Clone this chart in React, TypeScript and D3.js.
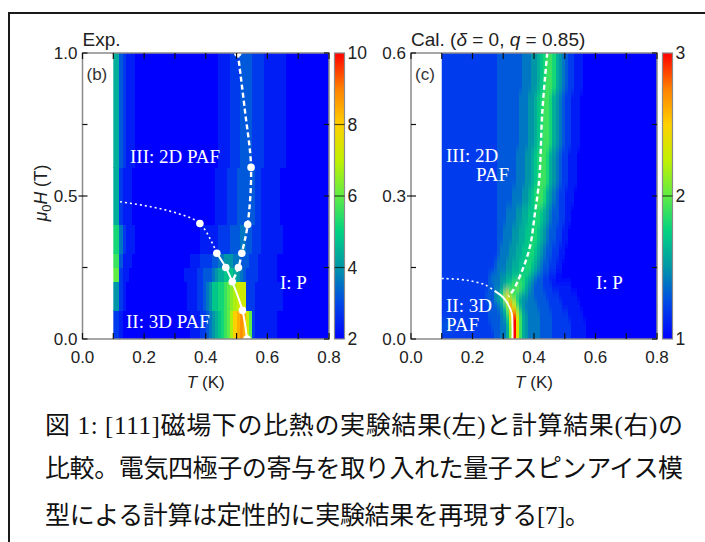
import React from "react";
import * as d3 from "d3";

// ---------------- data ----------------
// colour map stops (low -> high)
const CMAP_STOPS = ["#0000ff", "#0048e8", "#0096a8", "#00d282", "#60ec46", "#c0f000", "#ffd000", "#ff8000", "#ff0000"];

// Panel (b): experiment. Columns start at T=0.10, step 0.01 K; rows between field edges.
// each char = level (base 36), value = VMIN + level*VSTEP
const EXP_T0 = 0.1;
const EXP_DT = 0.01;
const EXP_VMIN = 2;
const EXP_VMAX = 10;
const EXP_VSTEP = 0.4;
const EXP_H_EDGES = [0, 0.1, 0.2, 0.25, 0.3, 0.4, 0.6, 1.0];
const EXP_ROWS = [
  "2210000000 0000000000 0000011122 3456789ACF GHGDA21111 1110000000 0000000000",
  "5521000000 0000000000 0000111223 4577889ABC DDD2221111 1111100000 0000000000",
  "AA21100000 0000000000 0001111223 3345667776 5432222111 1110000000 0000000000",
  "9931110000 0000000000 0000011122 2233445554 4333222111 1110000000 0000000000",
  "8842111000 0000000000 0000000011 1111222233 3443322211 1111100000 0000000000",
  "6621110000 0000000000 0000000000 0001111222 3333332211 1111000000 0000000000",
  "6632111000 0000000000 0000000000 0000111122 2333322221 1111110000 0000000000",
];

// Panel (c): calculation
const CAL_T0 = 0.1;
const CAL_DT = 0.01;
const CAL_VMIN = 1;
const CAL_VMAX = 3;
const CAL_VSTEP = 0.1;
const CAL_H_EDGES = [0, 0.02, 0.04, 0.06, 0.08, 0.1, 0.12, 0.14, 0.17, 0.2, 0.24, 0.28, 0.32, 0.36, 0.4, 0.44, 0.48, 0.52, 0.56, 0.6];
const CAL_ROWS = [
  "2222222222 2222222334 46BKE96544 4433332222 2211111000 0000000000 0000000000",
  "3333222222 2222223334 46BKE96544 4433332222 2211111000 0000000000 0000000000",
  "2222222222 2222233334 58EKD96544 4433332222 2111110000 0000000000 0000000000",
  "2222222222 2222233345 7BHD965444 4333322221 1111100000 0000000000 0000000000",
  "2222222222 2222333568 CEB9765544 3333222211 1111000000 0000000000 0000000000",
  "2222222222 2222233445 6789A98654 3332221111 1100000000 0000000000 0000000000",
  "2222222222 2222234445 5667788765 4332211000 0000000000 0000000000 0000000000",
  "2222222222 2222222344 4556677887 6543322110 0000000000 0000000000 0000000000",
  "2222222222 2222222234 4455667788 7654332211 0000000000 0000000000 0000000000",
  "2222222222 2222222233 4445566778 8765433221 1000000000 0000000000 0000000000",
  "2222222222 2222222233 3444556677 8876543322 1100000000 0000000000 0000000000",
  "2222222222 2222222233 3334445567 8998654322 1110000000 0000000000 0000000000",
  "2222222222 2222222233 3333444556 7899865432 2111000000 0000000000 0000000000",
  "2222222222 2222222233 3333444556 7899865432 2111000000 0000000000 0000000000",
  "2222222222 2222222233 3333344455 6789986543 2211100000 0000000000 0000000000",
  "2222222222 2222222233 3333344455 6789986543 2211100000 0000000000 0000000000",
  "2222222222 2222222233 3333344455 6789986543 2211100000 0000000000 0000000000",
  "2222222222 2222222233 3333334445 5678998654 3221110000 0000000000 0000000000",
  "2222222222 2222222233 3333334445 5678998654 3221110000 0000000000 0000000000",
];

// axes
const X_TICKS = [0, 0.1, 0.2, 0.3, 0.4, 0.5, 0.6, 0.7, 0.8];
const X_LABELS = [0, 0.2, 0.4, 0.6, 0.8];
const EXP_Y_TICKS = [0, 0.25, 0.5, 0.75, 1.0];
const EXP_Y_LABELS = [0, 0.5, 1.0];
const CAL_Y_TICKS = [0, 0.15, 0.3, 0.45, 0.6];
const CAL_Y_LABELS = [0, 0.3, 0.6];
const EXP_CB_LABELS = [2, 4, 6, 8, 10];
const CAL_CB_LABELS = [1, 2, 3];

// phase boundaries [T (K), H (T)]
const EXP_DOTS = [[0.504, 1.0], [0.547, 0.6], [0.536, 0.4], [0.381, 0.404], [0.436, 0.3], [0.517, 0.3], [0.465, 0.25], [0.506, 0.25], [0.486, 0.2], [0.519, 0.1], [0.534, 0.0]];
const EXP_DASHED = [[0.504, 1.0], [0.527, 0.8], [0.547, 0.6], [0.536, 0.4], [0.517, 0.3], [0.506, 0.25], [0.486, 0.2]];
const EXP_DOTTED = [[0.122, 0.48], [0.219, 0.463], [0.306, 0.44], [0.381, 0.404], [0.436, 0.3]];
const EXP_SOLID = [[0.436, 0.3], [0.465, 0.25], [0.486, 0.2], [0.519, 0.1], [0.534, 0.0]];

const CAL_DASHED = [[0.443, 0.6], [0.427, 0.476], [0.417, 0.334], [0.403, 0.264], [0.387, 0.194], [0.36, 0.141], [0.333, 0.103], [0.317, 0.089]];
const CAL_DOTTED = [[0.1, 0.127], [0.16, 0.125], [0.2, 0.121], [0.24, 0.114], [0.272, 0.101]];
const CAL_SOLID = [[0.272, 0.101], [0.295, 0.09], [0.311, 0.078], [0.3275, 0.054], [0.33, 0.026], [0.33, 0.0]];

const CAPTION = [
  "図 1: [111]磁場下の比熱の実験結果(左)と計算結果(右)の",
  "比較。電気四極子の寄与を取り入れた量子スピンアイス模",
  "型による計算は定性的に実験結果を再現する[7]。",
];

// ---------------- drawing ----------------
const SANS = "'Liberation Sans', Arial, sans-serif";
const SERIF = "'Liberation Serif', 'Times New Roman', serif";
const CJK = "'Liberation Serif', 'Noto Sans CJK JP', serif";

const cmap = d3
  .scaleLinear<string>()
  .domain(CMAP_STOPS.map((_, i) => i / (CMAP_STOPS.length - 1)))
  .range(CMAP_STOPS)
  .interpolate(d3.interpolateRgb)
  .clamp(true);

type Pt = number[];

function Heatmap(props: any) {
  const { rows, edges, t0, dt, vmin, vmax, vstep, x, y, id, blur } = props;
  const ext = blur ? 10 : 0;
  const parsed = rows.map((r: string) => r.replace(/\s/g, "").split(""));
  const tEnd = t0 + dt * parsed[0].length;
  const cells: any[] = [];
  parsed.forEach((row: string[], r: number) => {
    row.forEach((ch, i) => {
      const v = vmin + parseInt(ch, 36) * vstep;
      let xa = x(t0 + i * dt);
      let xb = x(t0 + (i + 1) * dt);
      let ya = y(edges[r + 1]);
      let yb = y(edges[r]);
      if (i === 0) xa -= ext;
      if (i === row.length - 1) xb += ext;
      if (r === 0) yb += ext;
      if (r === parsed.length - 1) ya -= ext;
      cells.push(
        <rect key={r + "_" + i} x={xa} y={ya} width={xb - xa + 0.6} height={yb - ya + 0.6}
          fill={cmap((v - vmin) / (vmax - vmin))} />
      );
    });
  });
  const cx0 = x(t0), cx1 = x(tEnd), cy0 = y(edges[edges.length - 1]), cy1 = y(edges[0]);
  return (
    <g>
      <defs>
        <clipPath id={id + "clip"}>
          <rect x={cx0} y={cy0} width={cx1 - cx0} height={cy1 - cy0} />
        </clipPath>
        {blur && (
          <filter id={id + "blur"} x="-5%" y="-5%" width="110%" height="110%">
            <feGaussianBlur stdDeviation={blur} />
          </filter>
        )}
      </defs>
      <g clipPath={`url(#${id}clip)`}>
        <g filter={blur ? `url(#${id}blur)` : undefined} shapeRendering="crispEdges">{cells}</g>
      </g>
    </g>
  );
}

function Panel(props: any) {
  const {
    id, x0, x1, yTop, yBot, hMax, rows, edges, t0, dt, vmin, vmax, vstep, blur,
    yTicks, yLabels, cbX, cbLabels, title, letter, dashed, dotted, solid, dots, regions, yFmt,
  } = props;
  const x = d3.scaleLinear().domain([0, 0.8]).range([x0, x1]);
  const y = d3.scaleLinear().domain([0, hMax]).range([yBot, yTop]);
  const cb = d3.scaleLinear().domain([vmin, vmax]).range([yBot, yTop]);
  const line = d3.line<Pt>().x((d) => x(d[0])).y((d) => y(d[1])).curve(d3.curveCatmullRom.alpha(0.5));
  const fmt = d3.format(".1f");
  const cbW = 10;
  return (
    <g>
      <Heatmap rows={rows} edges={edges} t0={t0} dt={dt} vmin={vmin} vmax={vmax} vstep={vstep} x={x} y={y} id={id} blur={blur} />
      <defs>
        <clipPath id={id + "plot"}>
          <rect x={x0} y={yTop} width={x1 - x0} height={yBot - yTop} />
        </clipPath>
        <linearGradient id={id + "grad"} x1="0" y1="1" x2="0" y2="0">
          {CMAP_STOPS.map((c, i) => (
            <stop key={i} offset={i / (CMAP_STOPS.length - 1)} stopColor={c} />
          ))}
        </linearGradient>
      </defs>
      {/* boundaries */}
      <g clipPath={`url(#${id}plot)`} fill="none" stroke="#fff" strokeLinecap="butt">
        <path d={line(dotted as Pt[]) || ""} strokeWidth={1.6} strokeDasharray="2,3" />
        <path d={line(dashed as Pt[]) || ""} strokeWidth={2.4} strokeDasharray="5,3" />
        <path d={line(solid as Pt[]) || ""} strokeWidth={2} />
        {dots.map((d: Pt, i: number) => (
          <circle key={i} cx={x(d[0])} cy={y(d[1])} r={3.8} fill="#fff" stroke="none" />
        ))}
      </g>
      {/* frame */}
      <rect x={x0} y={yTop} width={x1 - x0} height={yBot - yTop} fill="none" stroke="#8a8a8a" strokeWidth={1.5} />
      {/* x ticks */}
      {X_TICKS.map((t) => (
        <g key={"xt" + t} stroke="#111" strokeWidth={1.2}>
          <line x1={x(t)} x2={x(t)} y1={yBot} y2={yBot - 6} />
          <line x1={x(t)} x2={x(t)} y1={yTop} y2={yTop + 6} />
        </g>
      ))}
      {X_LABELS.map((t) => (
        <text key={"xl" + t} x={x(t)} y={yBot + 24} textAnchor="middle" fontFamily={SANS} fontSize={17} fill="#222">
          {fmt(t)}
        </text>
      ))}
      {/* y ticks */}
      {yTicks.map((h: number) => {
        const labeled = yLabels.includes(h) && h > 0 && h < hMax;
        return (
          <g key={"yt" + h} stroke="#111" strokeWidth={1.2}>
            <line x1={x0 - (labeled ? 4 : 0)} x2={x0 + 5} y1={y(h)} y2={y(h)} />
            <line x1={x1 - 5} x2={x1} y1={y(h)} y2={y(h)} />
          </g>
        );
      })}
      {yLabels.map((h: number) => (
        <text key={"yl" + h} x={x0 - 5} y={y(h) + 6} textAnchor="end" fontFamily={SANS} fontSize={17} fill="#222">
          {yFmt(h)}
        </text>
      ))}
      {/* colour bar */}
      <rect x={cbX} y={yTop} width={cbW} height={yBot - yTop} fill={`url(#${id}grad)`} stroke="#8a8a8a" strokeWidth={1.2} />
      {cbLabels.map((v: number, i: number) => (
        <g key={"cb" + v}>
          {i > 0 && i < cbLabels.length - 1 && (
            <line x1={cbX} x2={cbX + cbW} y1={cb(v)} y2={cb(v)} stroke="#000" strokeOpacity={0.65} strokeWidth={1.2} />
          )}
          <text x={cbX + 13} y={cb(v) + 6} fontFamily={SANS} fontSize={17.5} fill="#222">{v}</text>
        </g>
      ))}
      {/* titles */}
      <text x={x0} y={46} fontFamily={SANS} fontSize={19} fill="#222">{title}</text>
      <text x={x0 + 4} y={80} fontFamily={SANS} fontSize={17} fill="#333">{letter}</text>
      <text x={(x0 + x1) / 2} y={388} textAnchor="middle" fontFamily={SANS} fontSize={17} fill="#222">
        <tspan fontStyle="italic">T</tspan> (K)
      </text>
      {regions.map((r: any, i: number) => (
        <text key={"rg" + i} x={r[0]} y={r[1]} fontFamily={SERIF} fontSize={19} fill="#fff">{r[2]}</text>
      ))}
    </g>
  );
}

export default function App() {
  const yTop = 53, yBot = 339;
  return (
    <svg width={705} height={542} viewBox="0 0 705 542" style={{ position: "absolute", left: 0, top: 0, background: "#fff" }}>
      <rect x={0} y={0} width={705} height={542} fill="#fff" />
      <path d="M9,542 L9,13 L705,13" fill="none" stroke="#1a1a1a" strokeWidth={2} />
      <Panel
        id="exp" x0={82.5} x1={329} yTop={yTop} yBot={yBot} hMax={1.0}
        rows={EXP_ROWS} edges={EXP_H_EDGES} t0={EXP_T0} dt={EXP_DT}
        vmin={EXP_VMIN} vmax={EXP_VMAX} vstep={EXP_VSTEP} blur={0}
        yTicks={EXP_Y_TICKS} yLabels={EXP_Y_LABELS} yFmt={d3.format(".1f")}
        cbX={334.5} cbLabels={EXP_CB_LABELS}
        title="Exp." letter="(b)"
        dashed={EXP_DASHED} dotted={EXP_DOTTED} solid={EXP_SOLID} dots={EXP_DOTS}
        regions={[[130, 163, "III: 2D PAF"], [126, 328, "II: 3D PAF"], [280, 289, "I: P"]]}
      />
      <Panel
        id="cal" x0={411} x1={657} yTop={yTop} yBot={yBot} hMax={0.6}
        rows={CAL_ROWS} edges={CAL_H_EDGES} t0={CAL_T0} dt={CAL_DT}
        vmin={CAL_VMIN} vmax={CAL_VMAX} vstep={CAL_VSTEP} blur="0.5 4"
        yTicks={CAL_Y_TICKS} yLabels={CAL_Y_LABELS} yFmt={d3.format(".1f")}
        cbX={662.5} cbLabels={CAL_CB_LABELS}
        title={
          <>
            Cal. (<tspan fontStyle="italic">δ</tspan> = 0, <tspan fontStyle="italic">q</tspan> = 0.85)
          </>
        }
        letter="(c)"
        dashed={CAL_DASHED} dotted={CAL_DOTTED} solid={CAL_SOLID} dots={[]}
        regions={[[446, 162, "III: 2D"], [476, 181, "PAF"], [446, 312, "II: 3D"], [446, 331, "PAF"], [596, 289, "I: P"]]}
      />
      {/* y axis label */}
      <text transform="translate(47,193) rotate(-90)" textAnchor="middle" fontFamily={SANS} fontSize={17.5} fill="#222">
        <tspan fontStyle="italic">μ</tspan>
        <tspan fontSize={13} dy={4}>0</tspan>
        <tspan fontStyle="italic" dy={-4}>H</tspan>
        <tspan> (T)</tspan>
      </text>
      {/* caption */}
      {CAPTION.map((s, i) => (
        <text key={i} x={45} y={[434, 477, 524][i]} fontFamily={CJK} fontSize={25} fill="#111"
          textLength={[638, 638, 545][i]} lengthAdjust="spacing">
          {s}
        </text>
      ))}
    </svg>
  );
}
